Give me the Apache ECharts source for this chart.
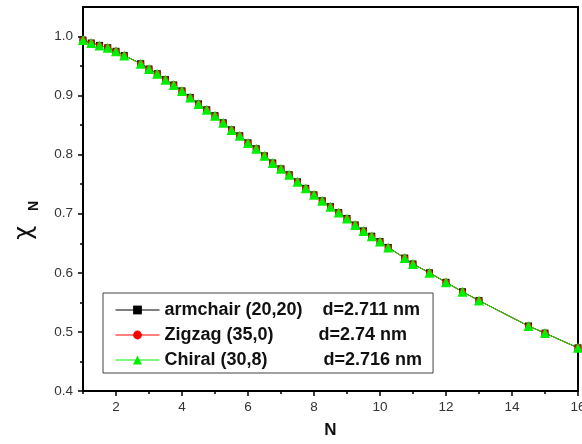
<!DOCTYPE html>
<html>
<head>
<meta charset="utf-8">
<script src="https://cdn.jsdelivr.net/npm/echarts@6/dist/echarts.min.js"></script>
<style>
  html, body { margin: 0; padding: 0; background: #fff; }
  #chart { width: 582px; height: 444px; }
</style>
</head>
<body>
<div id="chart"></div>
<script>
// Number of unit cells N
const nValues = [1, 1.25, 1.5, 1.75, 2, 2.25, 2.75, 3, 3.25, 3.5, 3.75, 4,
  4.25, 4.5, 4.75, 5, 5.25, 5.5, 5.75, 6, 6.25, 6.5, 6.75, 7, 7.25, 7.5, 7.75,
  8, 8.25, 8.5, 8.75, 9, 9.25, 9.5, 9.75, 10, 10.25, 10.75, 11, 11.5, 12,
  12.5, 13, 14.5, 15, 16];

// chi_N for each nanotube
const armchairChi = [0.994, 0.989, 0.985, 0.981, 0.975, 0.968, 0.954, 0.945,
  0.937, 0.927, 0.918, 0.908, 0.897, 0.886, 0.876, 0.866, 0.854, 0.842, 0.832,
  0.820, 0.810, 0.798, 0.786, 0.776, 0.766, 0.754, 0.743, 0.732, 0.722, 0.712,
  0.702, 0.692, 0.681, 0.671, 0.662, 0.653, 0.643, 0.625, 0.615, 0.600, 0.584,
  0.568, 0.553, 0.510, 0.498, 0.473];
const zigzagChi = [0.994, 0.989, 0.985, 0.981, 0.975, 0.968, 0.954, 0.945,
  0.937, 0.927, 0.918, 0.908, 0.897, 0.886, 0.876, 0.866, 0.854, 0.842, 0.832,
  0.820, 0.810, 0.798, 0.786, 0.776, 0.766, 0.754, 0.743, 0.732, 0.722, 0.712,
  0.702, 0.692, 0.681, 0.671, 0.662, 0.653, 0.643, 0.625, 0.615, 0.600, 0.584,
  0.568, 0.553, 0.510, 0.498, 0.473];
const chiralChi = [0.994, 0.989, 0.985, 0.981, 0.975, 0.968, 0.954, 0.945,
  0.937, 0.927, 0.918, 0.908, 0.897, 0.886, 0.876, 0.866, 0.854, 0.842, 0.832,
  0.820, 0.810, 0.798, 0.786, 0.776, 0.766, 0.754, 0.743, 0.732, 0.722, 0.712,
  0.702, 0.692, 0.681, 0.671, 0.662, 0.653, 0.643, 0.625, 0.615, 0.600, 0.584,
  0.568, 0.553, 0.510, 0.498, 0.473];

const seriesNames = ['armchair (20,20)', 'Zigzag (35,0)', 'Chiral (30,8)'];
const diameters = ['d=2.711 nm', 'd=2.74 nm', 'd=2.716 nm'];

// Axis ticks
const xMajorTicks = [2, 4, 6, 8, 10, 12, 14, 16];
const xMinorTicks = [1, 3, 5, 7, 9, 11, 13, 15];
const yMajorTicks = [0.4, 0.5, 0.6, 0.7, 0.8, 0.9, 1.0];
const yMinorTicks = [0.45, 0.55, 0.65, 0.75, 0.85, 0.95];

const pairs = ys => nValues.map((n, i) => [n, ys[i]]);

const sans = 'Liberation Sans, Arial, sans-serif';
const labelFont = { fontFamily: sans, fontSize: 13.5, color: '#333' };

const chart = echarts.init(document.getElementById('chart'), null, { renderer: 'canvas' });

const legendText = { fontFamily: sans, fontWeight: 'bold', fontSize: 18, color: '#111' };
const legendRich = {
  n0: Object.assign({ width: 158 }, legendText),
  n1: Object.assign({ width: 154 }, legendText),
  n2: Object.assign({ width: 159 }, legendText),
  d: Object.assign({}, legendText)
};

chart.setOption({
  animation: false,
  backgroundColor: '#fff',
  grid: {
    left: 83, right: 4, top: 7, bottom: 53,
    outerBoundsMode: 'none',
    containLabel: false,
    show: true, borderColor: '#000', borderWidth: 2, backgroundColor: 'transparent'
  },
  xAxis: [
    {
      type: 'value', min: 1, max: 16,
      name: 'N', nameLocation: 'middle', nameGap: 31,
      nameTextStyle: { fontFamily: sans, fontWeight: 'bold', fontSize: 17, color: '#111' },
      axisLine: { show: true, onZero: false, lineStyle: { color: '#000', width: 2 } },
      axisTick: { show: true, customValues: xMajorTicks, length: 5, lineStyle: { color: '#000', width: 1.5 } },
      axisLabel: Object.assign({ customValues: xMajorTicks, margin: 9 }, labelFont),
      splitLine: { show: false }
    },
    {
      type: 'value', min: 1, max: 16, position: 'bottom',
      axisLine: { show: false },
      axisTick: { show: true, customValues: xMinorTicks, length: 3, lineStyle: { color: '#000', width: 1.5 } },
      axisLabel: { show: false },
      splitLine: { show: false }
    }
  ],
  yAxis: [
    {
      type: 'value', min: 0.4, max: 1.05,
      axisLine: { show: true, onZero: false, lineStyle: { color: '#000', width: 2 } },
      axisTick: { show: true, customValues: yMajorTicks, length: 5, lineStyle: { color: '#000', width: 1.5 } },
      axisLabel: Object.assign({ customValues: yMajorTicks, margin: 10, formatter: v => v.toFixed(1) }, labelFont),
      splitLine: { show: false }
    },
    {
      type: 'value', min: 0.4, max: 1.05, position: 'left',
      axisLine: { show: false },
      axisTick: { show: true, customValues: yMinorTicks, length: 3, lineStyle: { color: '#000', width: 1.5 } },
      axisLabel: { show: false },
      splitLine: { show: false }
    }
  ],
  legend: {
    orient: 'vertical',
    left: 103, top: 293,
    padding: [8, 11, 4, 12],
    itemGap: 7,
    itemWidth: 44, itemHeight: 11,
    backgroundColor: '#fff',
    borderColor: '#444', borderWidth: 1,
    lineStyle: { width: 1 },
    data: seriesNames,
    formatter: name => {
      const i = seriesNames.indexOf(name);
      return '{n' + i + '|' + name + '}{d|' + diameters[i] + '}';
    },
    textStyle: { rich: legendRich }
  },
  graphic: [
    {
      type: 'text', left: 13, top: 226, rotation: Math.PI / 2,
      style: { text: 'χ', fontFamily: 'DejaVu Sans, sans-serif', fontSize: 24, fill: '#111' }
    },
    {
      type: 'text', left: 27, top: 201, rotation: Math.PI / 2,
      style: { text: 'N', fontFamily: sans, fontWeight: 'bold', fontSize: 14, fill: '#111' }
    }
  ],
  series: [
    {
      name: seriesNames[0], type: 'line', data: pairs(armchairChi),
      symbol: 'rect', symbolSize: 7, showAllSymbol: true,
      itemStyle: { color: '#000' }, lineStyle: { color: '#000', width: 1 }
    },
    {
      name: seriesNames[1], type: 'line', data: pairs(zigzagChi),
      symbol: 'circle', symbolSize: 7, showAllSymbol: true,
      itemStyle: { color: '#ff0000' }, lineStyle: { color: '#ff0000', width: 1 }
    },
    {
      name: seriesNames[2], type: 'line', data: pairs(chiralChi),
      symbol: 'triangle', symbolSize: 10, showAllSymbol: true,
      itemStyle: { color: '#00ee00' }, lineStyle: { color: '#00ee00', width: 1 }
    }
  ]
});
</script>
</body>
</html>
